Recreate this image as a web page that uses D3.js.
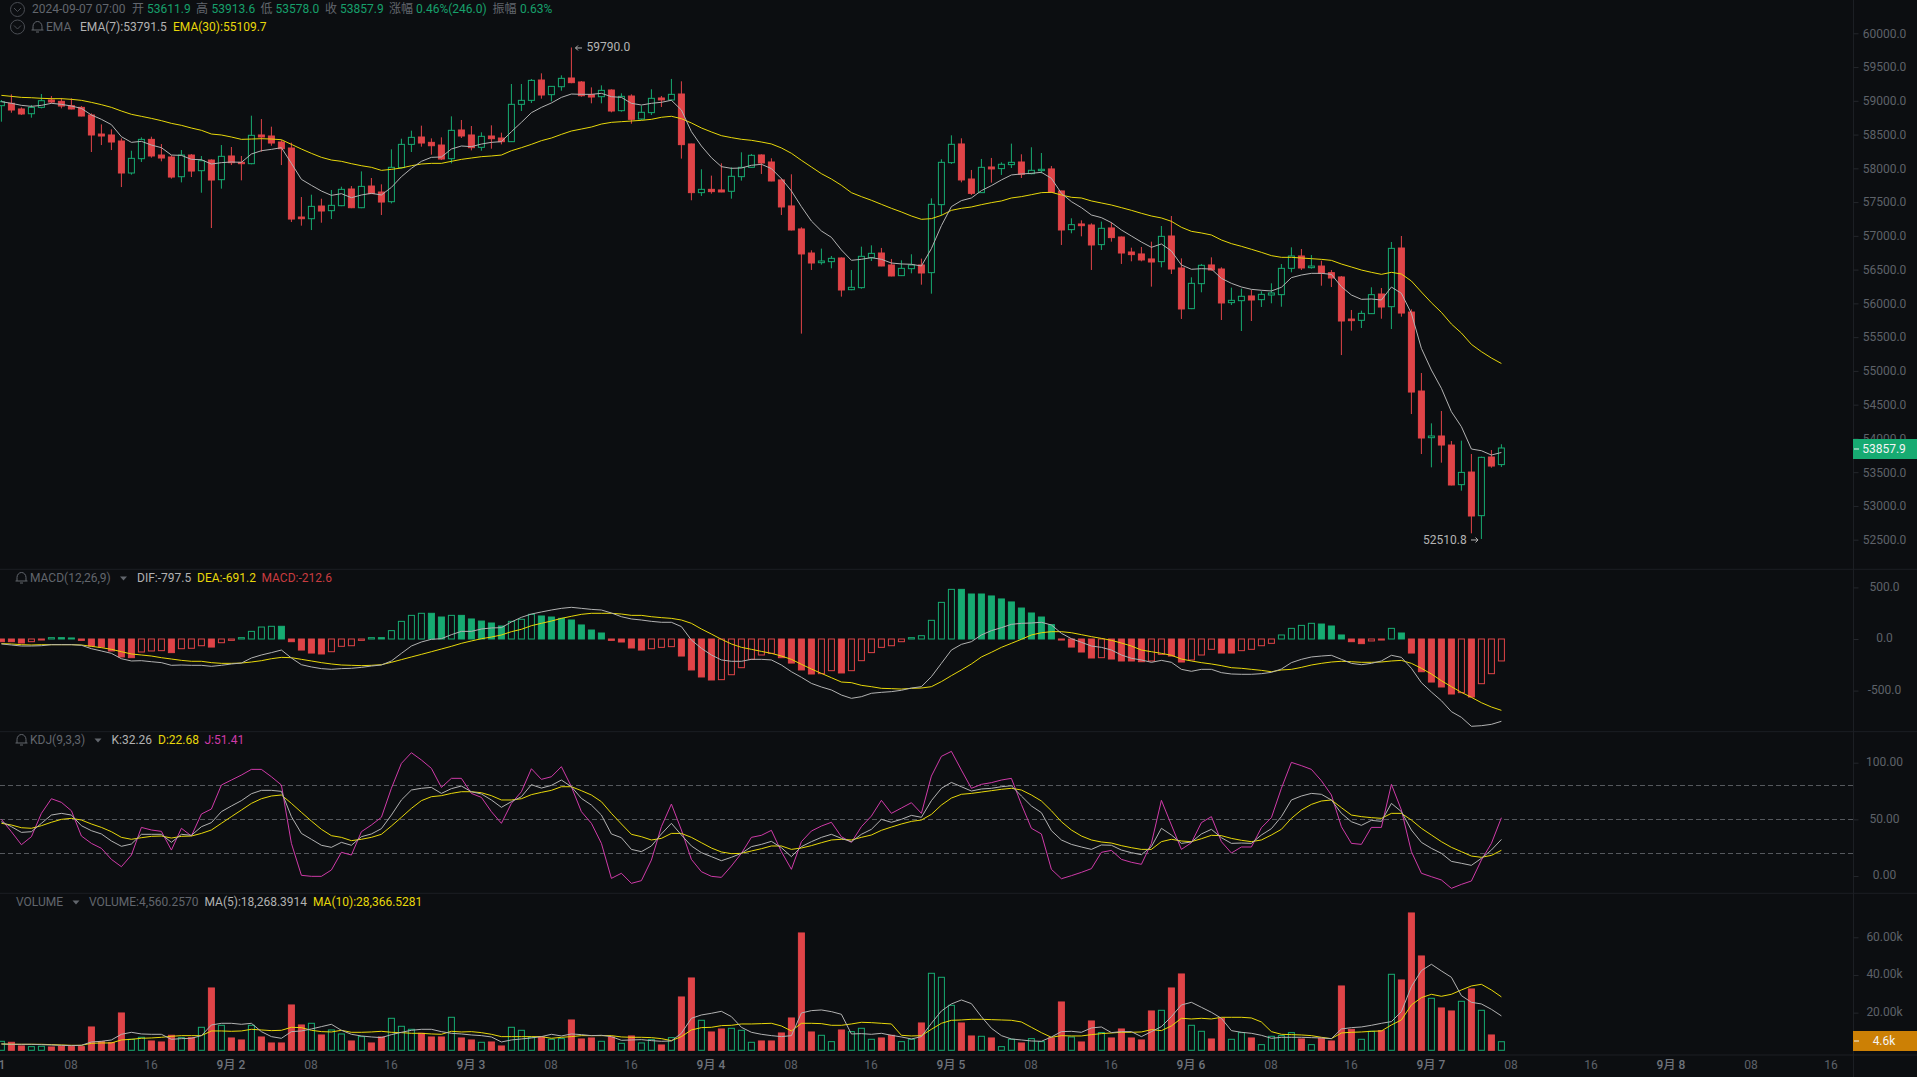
<!DOCTYPE html>
<html>
<head>
<meta charset="utf-8">
<title>BTC kline</title>
<script src="https://cdn.jsdelivr.net/npm/d3@7"></script>
<style>
    html, body { margin: 0; padding: 0; background: #0c0e11; overflow: hidden; }
    text { font-family: Roboto, "Noto Sans CJK SC", sans-serif; font-size: 12px; }
    .axis path { display: none; }
    .axis line { stroke: #24272c; }
    .axis text { fill: #5e6269; }
    .xaxis text { fill: #5e6269; }
    .xaxis text.day { fill: #6f737b; font-weight: 500; }
</style>
</head>
<body>
<div id="chart"></div>
<script>
/** hourly candles, 2024-09-01 01:00 to 2024-09-07 07:00 **/
var opens = [58928,58963,58879,58809,58903,59012,58992,58928,58903,58790,
    58508,58494,58405,57931,58143,58429,58197,58168,57876,58197,
    57965,58123,57832,58183,58089,58069,58494,58479,58390,58301,
    57279,57254,57442,57373,57447,57694,57417,57738,57649,57506,
    58010,58355,58464,58385,58345,58143,58568,58494,58311,58479,
    58449,58395,58948,59007,59308,59091,59209,59338,59279,59091,
    59061,59160,58854,59071,
    58731,58825,59042,59013,59101,58361,57640,57689,57680,57660,
    57877,58015,58198,58094,57828,57443,57102,56746,56603,56618,
    56672,56203,56233,56677,56746,56569,56411,56514,56569,56455,
    57462,58084,58361,57842,57640,58020,57996,58055,58094,57921,
    57966,57991,57665,57092,57176,57161,56870,57117,56983,56761,
    56732,56658,56618,56998,56524,55922,56292,56569,56509,56011,
    56040,56110,56055,56124,
    56129,56519,56702,56529,56553,56455,56391,55768,55749,55848,
    56139,55951,56820,55872,54702,54011,54036,53902,53315,53502,
    52856,53725,53611.9];
var highs = [59012,59096,58903,58938,59101,59071,59042,59037,58923,58814,
    58651,58577,58444,58261,58459,58469,58360,58192,58271,58212,
    58183,58133,58345,58316,58183,58780,58730,58617,58419,58380,
    57575,57610,57550,57679,57728,57738,57955,57857,57763,58281,
    58439,58558,58632,58444,58459,58770,58716,58627,58533,58637,
    58528,59249,59249,59323,59407,59219,59377,59790,59293,59199,
    59229,59170,59111,59096,
    58929,59171,59072,59324,59289,58365,57986,57892,58074,58015,
    58237,58213,58208,58149,57852,57912,57127,56786,56811,56702,
    56680,56495,56840,56860,56821,56658,56638,56727,56663,57556,
    58134,58489,58445,57976,58139,58154,58089,58366,58208,58312,
    58227,58035,57670,57260,57230,57186,57211,57201,56990,56825,
    56835,56914,57146,57294,56667,56386,56584,56682,56534,56233,
    56218,56198,56179,56297,
    56583,56830,56805,56716,56632,56494,56405,55902,55892,56238,
    56228,56909,56998,55912,54969,54223,54406,53962,53967,53769,
    53730,53828,53913.6];
var lows = [58691,58824,58790,58750,58888,58963,58888,58874,58770,58242,
    58345,58271,57723,57906,58094,58158,58104,57847,57792,57871,
    57639,57116,57699,58049,57822,58060,58247,58335,58049,57205,
    57151,57086,57195,57249,57440,57410,57410,57620,57309,57481,
    58000,58242,58321,58202,58123,58074,58449,58266,58261,58291,
    58355,58390,58849,58968,59032,58992,59150,59260,59061,58963,
    58963,58829,58839,58661,
    58716,58790,58909,59003,58144,57527,57591,57625,57645,57551,
    57818,58010,57917,57808,57309,57080,55552,56495,56574,56519,
    56100,56195,56218,56628,56550,56400,56405,56445,56277,56144,
    57304,58065,57793,57605,57635,57788,57902,58005,57857,57912,
    57926,57640,56865,57038,56993,56495,56791,56914,56584,56623,
    56623,56248,56534,56435,55769,55915,56164,56485,55754,55976,
    55591,55739,55947,56001,
    55951,56460,56494,56514,56262,56242,55235,55596,55635,55843,
    55773,55620,55803,54361,53769,53572,53641,53305,53226,52594,
    52510.8,53566,53578];
var closes = [58987,58864,58805,58903,59002,58982,58923,58879,58775,58494,
    58479,58390,57931,58148,58429,58183,58153,57871,58197,57960,
    58113,57827,58178,58084,58069,58489,58464,58375,58291,57249,
    57254,57437,57368,57452,57689,57417,57733,57625,57501,58015,
    58355,58459,58375,58335,58138,58563,58479,58306,58474,58439,
    58395,58948,59007,59303,59086,59214,59333,59269,59076,59056,
    59155,58849,59066,58726,
    58830,59037,59013,59096,58351,57640,57689,57655,57650,57882,
    58015,58193,58079,57813,57428,57087,56732,56598,56628,56667,
    56198,56238,56697,56741,56554,56406,56519,56569,56450,57467,
    58089,58356,57828,57630,58015,57991,58060,58089,57912,57971,
    57986,57645,57087,57166,57151,56865,57112,56974,56746,56722,
    56643,56613,56993,56509,55917,56297,56564,56495,56006,56045,
    56105,56050,56134,56154,
    56519,56702,56524,56553,56445,56376,55739,55744,55852,56129,
    55946,56815,55857,54687,54006,54036,53902,53310,53497,52851,
    53720,53591,53857.9];

var ema7 = [58987,58963,58933,58918,58933,58963,58948,58923,58888,58790,
    58726,58647,58469,58385,58400,58345,58306,58197,58192,58133,
    58128,58064,58084,58094,58089,58212,58261,58281,58306,58074,
    57837,57748,57664,57600,57625,57565,57605,57630,57605,57718,
    57876,58000,58104,58163,58168,58286,58331,58321,58360,58385,
    58395,58543,58681,58824,58903,58968,59051,59101,59096,59096,
    59111,59061,59051,58963,
    58938,58963,58978,59008,58864,58544,58331,58158,58025,58000,
    58005,58045,58060,57996,57847,57665,57433,57220,57072,56978,
    56791,56638,56653,56677,56653,56598,56584,56579,56554,56811,
    57151,57433,57522,57561,57670,57744,57828,57902,57917,57926,
    57941,57852,57630,57507,57418,57309,57270,57196,57087,56998,
    56909,56830,56880,56776,56569,56505,56514,56509,56371,56297,
    56243,56208,56194,56184,
    56238,56381,56420,56445,56445,56430,56247,56124,56060,56065,
    56050,56242,56149,55852,55334,55013,54742,54396,54174,53843,
    53818,53754,53791.5];
var ema30 = [59081,59066,59051,59046,59037,59032,59032,59022,59007,58977,
    58943,58903,58849,58800,58770,58740,58706,58666,58637,58597,
    58563,58508,58494,58464,58429,58434,58439,58434,58424,58355,
    58286,58222,58163,58123,58104,58069,58039,58015,57970,57985,
    58005,58039,58064,58074,58074,58104,58133,58153,58173,58183,
    58197,58261,58306,58355,58410,58449,58503,58553,58582,58612,
    58656,58681,58691,58701,
    58711,58726,58756,58771,58736,58672,58598,58539,58484,58455,
    58430,58415,58390,58361,58302,58223,58119,58020,57921,57842,
    57749,57640,57581,57527,57467,57408,57354,57294,57245,57255,
    57304,57378,57408,57428,57462,57492,57517,57561,57581,57610,
    57640,57645,57605,57571,57561,57517,57487,57457,57418,57378,
    57334,57294,57265,57215,57127,57067,57043,57013,56939,56885,
    56845,56801,56756,56707,
    56682,56682,56672,56662,56652,56637,56583,56539,56494,56460,
    56430,56460,56435,56331,56168,56010,55867,55694,55561,55393,
    55285,55191,55109.7];

/** MACD(12,26,9) **/
var macdBars = [-26,-26,-39,-26,-10,13,13,10,-13,-68,
    -78,-116,-174,-181,-126,-116,-113,-132,-94,-90,
    -65,-78,-36,-13,13,74,116,123,123,-26,
    -107,-136,-145,-123,-71,-65,-13,13,13,81,
    171,229,249,249,213,229,229,194,174,155,
    126,171,191,239,223,213,200,184,136,87,
    58,-13,-29,-87,
    -107,-94,-81,-74,-165,-300,-368,-397,-394,-346,
    -278,-197,-155,-139,-181,-233,-300,-339,-336,-307,
    -329,-307,-210,-132,-81,-65,-26,13,32,181,
    355,481,481,436,436,417,388,359,300,252,
    213,139,-10,-78,-126,-184,-181,-194,-213,-213,
    -220,-213,-149,-165,-223,-203,-155,-100,-136,-136,
    -113,-100,-65,-42,
    39,103,132,152,145,126,39,-26,-45,-19,
    -10,103,58,-136,-317,-417,-465,-533,-520,-562,
    -433,-336,-212.6];
var dif = [-48,-58,-68,-68,-65,-55,-55,-55,-61,-94,
    -116,-139,-191,-213,-210,-220,-229,-255,-252,-255,
    -255,-265,-255,-242,-233,-184,-155,-132,-107,-184,
    -249,-271,-287,-294,-287,-284,-275,-262,-252,-213,
    -139,-68,-29,-3,3,42,74,74,97,107,
    110,165,210,242,262,281,297,307,297,287,
    281,252,216,194,
    184,171,162,162,120,-10,-90,-155,-203,-216,
    -216,-197,-197,-203,-252,-317,-371,-430,-465,-494,
    -543,-575,-559,-526,-517,-510,-497,-475,-462,-365,
    -236,-107,-52,-26,39,81,110,142,152,155,
    162,136,55,3,-32,-68,-81,-107,-155,-187,
    -203,-226,-207,-226,-294,-313,-294,-294,-326,-339,
    -342,-342,-336,-323,
    -291,-229,-197,-174,-165,-158,-197,-236,-249,-236,
    -213,-158,-178,-284,-423,-514,-598,-704,-759,-846,
    -840,-827,-797.5];
var dea = [-45,-48,-55,-58,-55,-55,-55,-55,-58,-71,
    -84,-100,-123,-145,-155,-165,-181,-194,-207,-216,
    -216,-229,-236,-236,-233,-223,-210,-191,-178,-181,
    -197,-213,-229,-242,-252,-255,-258,-255,-249,-226,
    -200,-174,-149,-123,-97,-71,-42,-19,3,19,
    39,71,94,129,152,174,200,220,239,249,
    249,249,242,229,
    229,216,207,200,184,152,97,48,-3,-48,
    -81,-100,-120,-139,-165,-197,-245,-291,-333,-375,
    -417,-423,-449,-462,-478,-481,-485,-478,-475,-462,
    -413,-355,-300,-242,-174,-129,-81,-42,-3,39,
    61,71,71,61,42,23,6,-13,-39,-68,
    -107,-123,-139,-158,-194,-213,-229,-242,-258,-278,
    -284,-294,-304,-317,
    -300,-294,-275,-252,-236,-223,-216,-220,-226,-226,
    -223,-213,-207,-236,-284,-339,-404,-462,-517,-565,
    -617,-659,-691.2];

/** KDJ(9,3,3) **/
var kLine = [47.9,43.5,38.5,39.1,46.5,53.8,55.3,53.8,44.4,40,
    37.1,30.9,26.2,28.2,36.8,36.8,36.8,29.7,36.8,35.9,
    43.5,47.1,56.8,61.8,66.5,72.6,75.6,75.6,74.7,52.4,
    37.6,32.4,27.1,25.3,29.7,27.1,34.7,37.1,41.8,53.8,
    67.1,75.9,77.4,78.2,72.9,77.1,79.4,74.4,72.4,67.1,
    60.6,65.6,70,80.6,77.6,80,84.7,78.8,68.5,62.6,
    53.8,37.1,33.8,23.5,
    21.5,26.5,37.1,46.5,36.2,26.5,20.6,17.1,13.5,16.5,
    20,25.9,27.9,30.6,25,17.1,25.9,30.3,34.1,36.8,
    33.2,30.3,36.8,41.2,50,47.4,50,53.5,51.8,66.5,
    77.4,82.6,78.8,75,76.8,77.4,78.8,79.7,70.6,61.8,
    55.9,40,31.8,27.9,25.6,23.5,27.4,27.1,22.9,20.6,
    18.8,25.9,42.1,36.2,28.8,30,37.1,41.2,33.8,28.8,
    29.1,28.8,36.2,41.8,
    52.4,67.1,70.6,72.9,72.1,67.1,55.3,47.9,44.7,49.1,
    48.2,64.1,56.8,40.6,29.7,24.4,20,12.9,11.2,9.4,
    15.6,22.9,32.26];
var dLine = [46.5,45,42.6,42.1,44.4,47.4,50,50.9,49.4,45.9,
    42.9,39.1,34.1,32.4,33.8,35,35.3,33.5,35,35.3,
    37.6,40.6,46.5,52.4,58.2,64.1,68.2,70.6,71.5,64.1,
    56.2,48.5,41.2,35.6,34.1,31.2,32.4,34.1,36.8,44.1,
    51.8,59.7,66.5,70,70.9,72.9,74.4,74.4,73.5,70.9,
    67.1,67.1,68.2,71.8,73.8,75.6,78.8,78.8,75.3,71.5,
    65.6,55.3,45.9,36.8,
    34.7,31.8,33.2,37.6,37.6,34.1,29.4,24.7,21.2,19.7,
    20,22.1,24.1,26.5,26.5,23.5,24.7,26.8,29.4,31.8,
    32.4,31.8,34.1,36.2,40.3,43.2,45.9,48.2,49.4,54.4,
    62.6,68.8,72.1,72.9,74.1,75.3,76.5,77.4,75.9,71.5,
    66.2,57.6,47.9,40.6,35.3,31.8,30,29.1,26.8,25,
    23.5,23.5,30.3,32.4,30.9,30.3,32.9,35.9,35.6,33.2,
    31.5,30.3,31.8,36.2,
    41.2,50.9,58.2,63.2,66.2,67.1,60.3,53.8,52.4,51.5,
    50.9,55.3,55.3,49.4,42.1,36.2,30.3,25.3,21.5,17.6,
    16.5,18.2,22.68];
var jLine = [50,39.1,27.6,34.7,55.3,68.2,65,57.6,35.3,28.8,
    24.4,14.7,8.2,18.5,42.9,40.6,39.4,22.9,42.1,35.3,
    54.7,59.1,80.3,84.7,89.1,94.1,94.1,87.6,80.3,28.8,
    0.6,-0.3,-0.3,5.3,20.9,18.5,39.1,45,51.8,77.4,
    99.4,108.8,102.4,95,78.2,86.2,86.2,72.9,69.4,56.8,
    46.5,64.1,74.4,94.7,85.3,87.6,96.5,78.8,56.8,46.5,
    28.8,-2.1,2.4,-6.5,
    -4.1,14.1,43.5,63.5,40.6,14.7,3.8,-0.3,-1.2,8.8,
    20,34.1,35.9,40.3,21.5,5.9,30.3,39.7,44.1,47.4,
    34.7,29.7,43.5,52.9,66.8,55.3,60,64.7,55.3,88.2,
    105.6,110,93.5,77.4,80.9,82.4,84.7,86.2,63.2,42.1,
    37.1,5.9,-2.4,0.3,3.2,6.5,20.9,22.6,14.7,12.1,
    10.3,28.8,66.8,45,23.5,29.4,47.1,52.4,30.3,20.3,
    25.6,25.6,42.6,51.5,
    77.4,100.3,97.4,94.1,84.1,71.5,43.5,28.8,27.9,42.9,
    42.9,80.9,58.2,21.5,2.4,-0.6,-3.5,-10.9,-7.4,-4.4,
    14.1,28.8,51.41];

/** volume **/
var volumes = [4779,4248,2301,1947,2124,1770,2124,1947,1947,12390,
    4602,4071,19824,5841,6903,4956,4425,7965,6726,6726,
    12213,33099,13275,6549,5487,13275,7080,3894,3894,24072,
    13452,14337,8142,10797,8673,4956,7257,3894,7080,16992,
    12744,11151,9027,7080,7080,17523,6549,5487,4248,4425,
    2301,12213,10620,6903,7080,5841,6195,16107,6018,6549,
    4779,7080,3717,7611,
    3894,5664,2832,6726,28320,38409,15930,9735,11328,11682,
    10620,4248,4956,4956,9204,17169,62304,9735,7965,4602,
    10797,9912,11682,5841,6549,7965,4602,5841,14514,40887,
    38763,23895,14514,7611,7434,6549,1947,5841,3894,6195,
    4602,6549,25665,7080,4425,15576,9381,6549,11328,6549,
    5487,20886,21240,33099,40533,13275,10089,6018,16992,5841,
    9381,6549,3009,7434,
    7788,9381,6018,3009,6372,4956,34161,11151,5841,10089,
    10443,40356,37347,72924,50091,27612,22479,20886,26019,32568,
    21240,8142,4560.257];
var volMa5 = [3363,3186,3186,3186,3009,2832,2655,2478,2655,4425,
    4779,5487,8496,9558,8673,8496,8496,5841,6195,6372,
    7788,13452,14337,14337,13806,14337,9912,7257,6372,9912,
    10266,11328,12567,13806,10620,8496,7611,7080,6726,8319,
    9558,10620,11151,11151,9912,9027,8673,8142,7788,7080,
    4425,5487,6018,6549,7257,8496,7611,8673,8319,7788,
    7965,7257,5310,5487,
    5664,5133,4779,4956,9027,16992,18762,19647,20709,17877,
    12213,9558,8496,7788,7257,7788,19824,21063,21417,20532,
    19116,8673,8850,8496,9027,7965,7080,6018,7257,14337,
    20886,24603,26727,24780,17877,11682,7788,6018,5487,4956,
    4779,7080,9912,10089,9558,11859,12390,9381,9912,9912,
    7257,9912,12567,17877,24072,25488,22833,20178,16992,10443,
    9558,9027,7965,6372,
    6903,6903,6903,6726,6549,6195,11328,12036,12390,13275,
    14337,15222,20532,33807,42303,45666,42126,38763,29028,25488,
    24603,21771,18268.39];
var volMa10 = [3363,3186,3186,3186,3186,3009,2832,2655,2655,3717,
    3894,3894,5487,5841,6372,6549,6903,7434,7788,7788,
    7788,10266,10266,10089,10266,11151,10797,10443,10620,12213,
    12036,10620,9912,9735,10620,9558,9558,9735,10089,9558,
    9381,9027,9027,8673,8496,10089,9735,9912,9381,8496,
    7257,7257,7257,7257,7257,6372,6903,7257,7788,7788,
    7788,7788,7080,6903,
    6903,6726,6195,5133,7257,10797,12036,12213,13098,13275,
    13983,13983,14160,14337,12921,10266,14337,14337,14160,13275,
    13275,13983,14868,14691,14337,13983,7965,7611,7788,11151,
    14337,15930,16107,16461,16461,16284,16107,15930,15045,12213,
    9381,6903,7788,7611,7611,8319,8850,9204,9558,9558,
    9735,10974,10443,12921,16992,16638,16992,16638,17523,17523,
    17523,17169,15045,9912,
    8496,8319,8142,7788,6903,6195,9204,9558,9735,10089,
    10266,13452,16107,24072,27966,29736,28674,29736,32037,34161,
    35046,32037,28366.53];

/** axis ticks **/
var priceTicks = [52500,53000,53500,54000,54500,55000,55500,56000,56500,57000,57500,58000,58500,59000,59500,60000];
var macdTicks = [500,0,-500];
var kdjTicks = [100,50,0];
var kdjGuides = [80,50,20];
var volumeTicks = [60000,40000,20000];
var timeLabels = ["9月 1","08","16","9月 2","08","16","9月 3","08","16","9月 4","08","16",
    "9月 5","08","16","9月 6","08","16","9月 7","08","16","9月 8","08","16"];

var width = 1917, height = 1077, axisX = 1853;
var bg = "#0c0e11", up = "#17ab72", down = "#e04448", gridColor = "#1c1f24",
    white = "#b2b2b2", yellow = "#e8d80a", magenta = "#cf3aa8", dim = "#62666d";
var barW = 7;

var svg = d3.select("#chart").append("svg")
    .attr("width", width)
    .attr("height", height)
    .style("display", "block")
    .style("background", bg);

var candles = d3.range(opens.length);

/** shared x, one step per hour **/
var x = d3.scaleLinear().domain([0, 150]).range([1.4, 1501.4]);

/** one y scale per pane **/
var yPrice = d3.scaleLinear().domain([52500, 60000]).range([539.7, 33.3]);
var yMacd = d3.scaleLinear().domain([-500, 500]).range([690.6, 587.4]);
var yKdj = d3.scaleLinear().domain([0, 100]).range([876, 762.7]);
var yVol = d3.scaleLinear().domain([0, 60000]).range([1050.3, 937.3]);

/** pane frame **/
[569.3, 731.7, 893.3, 1055].forEach(function(y) {
    svg.append("line").attr("x1", 0).attr("x2", width).attr("y1", y).attr("y2", y)
        .attr("stroke", gridColor);
});
svg.append("line").attr("x1", axisX + 0.5).attr("x2", axisX + 0.5).attr("y1", 0).attr("y2", height)
    .attr("stroke", gridColor);

/** right hand axes **/
function rightAxis(scale, ticks, fmt, shift) {
    var g = svg.append("g")
        .attr("class", "axis")
        .attr("transform", "translate(" + (axisX + 0.5) + ",0)")
        .call(d3.axisRight(scale).tickValues(ticks).tickSize(5).tickFormat(fmt));
    g.selectAll("text")
        .attr("x", 31)
        .attr("y", shift)
        .attr("text-anchor", "middle")
        .style("font-size", "12px")
        .style("font-family", "Roboto");
    return g;
}
rightAxis(yPrice, priceTicks, function(d) { return d.toFixed(1); }, 0);
rightAxis(yMacd, macdTicks, function(d) { return d.toFixed(1); }, -1);
rightAxis(yKdj, kdjTicks, function(d) { return d.toFixed(2); }, -1);
rightAxis(yVol, volumeTicks, function(d) { return (d / 1000).toFixed(2) + "k"; }, -1);

/** bottom time axis **/
var timeTicks = timeLabels.map(function(d, i) { return -1 + i * 8; });
var xAxis = svg.append("g")
    .attr("class", "xaxis axis")
    .attr("transform", "translate(-1,1055)")
    .call(d3.axisBottom(x).tickValues(timeTicks).tickSize(0).tickPadding(5)
        .tickFormat(function(d, i) { return timeLabels[i]; }));
xAxis.selectAll("text")
    .attr("class", function(d, i) { return timeLabels[i].length > 2 ? "day" : null; })
    .style("font-size", "12px");

/** candles **/
var candle = svg.append("g").selectAll("g")
    .data(candles)
    .enter().append("g");
candle.append("line")
    .attr("x1", function(i) { return x(i); })
    .attr("x2", function(i) { return x(i); })
    .attr("y1", function(i) { return yPrice(highs[i]); })
    .attr("y2", function(i) { return yPrice(lows[i]); })
    .attr("stroke", function(i) { return closes[i] >= opens[i] ? up : down; });
candle.append("rect")
    .attr("x", function(i) { return x(i) - barW / 2 + 0.5; })
    .attr("width", barW - 1)
    .attr("y", function(i) { return yPrice(Math.max(opens[i], closes[i])); })
    .attr("height", function(i) { return Math.max(1, Math.abs(yPrice(opens[i]) - yPrice(closes[i]))); })
    .attr("fill", function(i) { return closes[i] >= opens[i] ? bg : down; })
    .attr("stroke", function(i) { return closes[i] >= opens[i] ? up : down; });

function drawLine(values, scale, color, w) {
    svg.append("path")
        .datum(values)
        .attr("fill", "none")
        .attr("stroke", color)
        .attr("stroke-width", w || 1)
        .attr("d", d3.line()
            .x(function(d, i) { return x(i); })
            .y(function(d) { return scale(d); }));
}

drawLine(ema30, yPrice, yellow);
drawLine(ema7, yPrice, white);

/** high and low marks, arrow kept small like the reference **/
function mark(px, py, txt, color, anchor) {
    svg.append("text").attr("x", px).attr("y", py).attr("fill", color)
        .attr("text-anchor", anchor || "start").text(txt);
}
function arrow(x1, x2, py) {
    var dir = x2 > x1 ? -1 : 1;
    svg.append("path")
        .attr("d", "M" + x1 + "," + py + " L" + x2 + "," + py + " M" + (x2 + dir * 2.5) + "," + (py - 2.5)
            + " L" + x2 + "," + py + " L" + (x2 + dir * 2.5) + "," + (py + 2.5))
        .attr("fill", "none").attr("stroke", "#b4b4b4");
}
arrow(582, 575.5, yPrice(59790) + 0.5);
mark(586.5, yPrice(59790) + 4, "59790.0", "#b4b4b4");
arrow(1471, 1478, yPrice(52510.8) + 1);
mark(1423, yPrice(52510.8) + 5, "52510.8", "#b4b4b4");

/** MACD histogram, rising bars are hollow **/
svg.append("g").selectAll("rect")
    .data(macdBars)
    .enter().append("rect")
    .attr("x", function(d, i) { return x(i) - barW / 2 + 0.5; })
    .attr("width", barW - 1)
    .attr("y", function(d) { return Math.min(yMacd(d), yMacd(0)); })
    .attr("height", function(d) { return Math.max(1, Math.abs(yMacd(d) - yMacd(0))); })
    .attr("fill", function(d, i) { return i > 0 && d > macdBars[i - 1] ? bg : (d >= 0 ? up : down); })
    .attr("stroke", function(d) { return d >= 0 ? up : down; });
drawLine(dea, yMacd, yellow);
drawLine(dif, yMacd, white);

/** KDJ **/
svg.append("g").selectAll("line")
    .data(kdjGuides)
    .enter().append("line")
    .attr("x1", 0)
    .attr("x2", axisX)
    .attr("y1", function(d) { return Math.round(yKdj(d)) + 0.5; })
    .attr("y2", function(d) { return Math.round(yKdj(d)) + 0.5; })
    .attr("stroke", "#55585d")
    .attr("stroke-dasharray", "5,3");
drawLine(jLine, yKdj, magenta);
drawLine(dLine, yKdj, yellow);
drawLine(kLine, yKdj, white);

/** volume **/
svg.append("g").selectAll("rect")
    .data(volumes)
    .enter().append("rect")
    .attr("x", function(d, i) { return x(i) - barW / 2 + 0.5; })
    .attr("width", barW - 1)
    .attr("y", function(d) { return yVol(d); })
    .attr("height", function(d) { return yVol(0) - yVol(d); })
    .attr("fill", function(d, i) { return closes[i] >= opens[i] ? bg : down; })
    .attr("stroke", function(d, i) { return closes[i] >= opens[i] ? up : down; });
drawLine(volMa10, yVol, yellow);
drawLine(volMa5, yVol, white);

/** last value tags on the axis **/
function lastTag(y, h, color, txt) {
    svg.append("rect").attr("x", axisX).attr("y", y - h / 2).attr("width", width - axisX).attr("height", h)
        .attr("fill", color);
    svg.append("line").attr("x1", axisX + 1).attr("x2", axisX + 6).attr("y1", y).attr("y2", y)
        .attr("stroke", "#f0f0f0");
    svg.append("text").attr("x", axisX + 31).attr("y", y + 4).attr("text-anchor", "middle")
        .attr("fill", "#f4f4f4").text(txt);
}
lastTag(449, 20, "#17ab72", "53857.9");
lastTag(1041, 20, "#cc8005", "4.6k");

/** header texts **/
function label(px, py, txt, color) {
    svg.append("text").attr("x", px).attr("y", py).attr("fill", color).text(txt);
}
function chevronIcon(cx, cy) {
    svg.append("circle").attr("cx", cx).attr("cy", cy).attr("r", 7)
        .attr("fill", "none").attr("stroke", "#4a4d53");
    svg.append("path").attr("d", "M" + (cx - 3.5) + "," + (cy - 1.5) + " L" + cx + "," + (cy + 2) + " L" + (cx + 3.5) + "," + (cy - 1.5))
        .attr("fill", "none").attr("stroke", "#4a4d53");
}
function bellIcon(cx, cy) {
    svg.append("path")
        .attr("d", "M" + (cx - 6) + "," + (cy + 3.5) + " h12 M" + (cx - 4.5) + "," + (cy + 3.5)
            + " v-3.5 a4.5,5 0 0 1 9,0 v3.5 M" + (cx - 1.5) + "," + (cy + 5.5) + " h3")
        .attr("fill", "none").attr("stroke", "#62666d");
}
function caret(cx, cy) {
    svg.append("path").attr("d", "M" + (cx - 3.5) + "," + (cy - 2) + " h7 l-3.5,4 z").attr("fill", "#62666d");
}

var green = "#17a06c";
chevronIcon(17.5, 9.5);
label(32, 13, "2024-09-07 07:00", dim);
label(132, 13, "开", dim);
label(147, 13, "53611.9", green);
label(196, 13, "高", dim);
label(211.5, 13, "53913.6", green);
label(260.5, 13, "低", dim);
label(275.5, 13, "53578.0", green);
label(325, 13, "收", dim);
label(340, 13, "53857.9", green);
label(389, 13, "涨幅", dim);
label(416, 13, "0.46%(246.0)", green);
label(492.5, 13, "振幅", dim);
label(520, 13, "0.63%", green);

chevronIcon(17.5, 27);
bellIcon(37.5, 26.5);
label(46, 31, "EMA", dim);
label(80, 31, "EMA(7):53791.5", white);
label(173, 31, "EMA(30):55109.7", yellow);

bellIcon(21.5, 577.5);
label(30, 582, "MACD(12,26,9)", dim);
caret(123.5, 578.5);
label(137, 582, "DIF:-797.5", white);
label(197, 582, "DEA:-691.2", yellow);
label(261.5, 582, "MACD:-212.6", "#c93c40");

bellIcon(21.5, 739.5);
label(30, 744, "KDJ(9,3,3)", dim);
caret(98, 740.5);
label(111.5, 744, "K:32.26", white);
label(158, 744, "D:22.68", yellow);
label(204.5, 744, "J:51.41", magenta);

label(16, 906, "VOLUME", dim);
caret(76, 902.5);
label(89, 906, "VOLUME:4,560.2570", dim);
label(204.5, 906, "MA(5):18,268.3914", white);
label(313, 906, "MA(10):28,366.5281", yellow);
</script>
</body>
</html>
